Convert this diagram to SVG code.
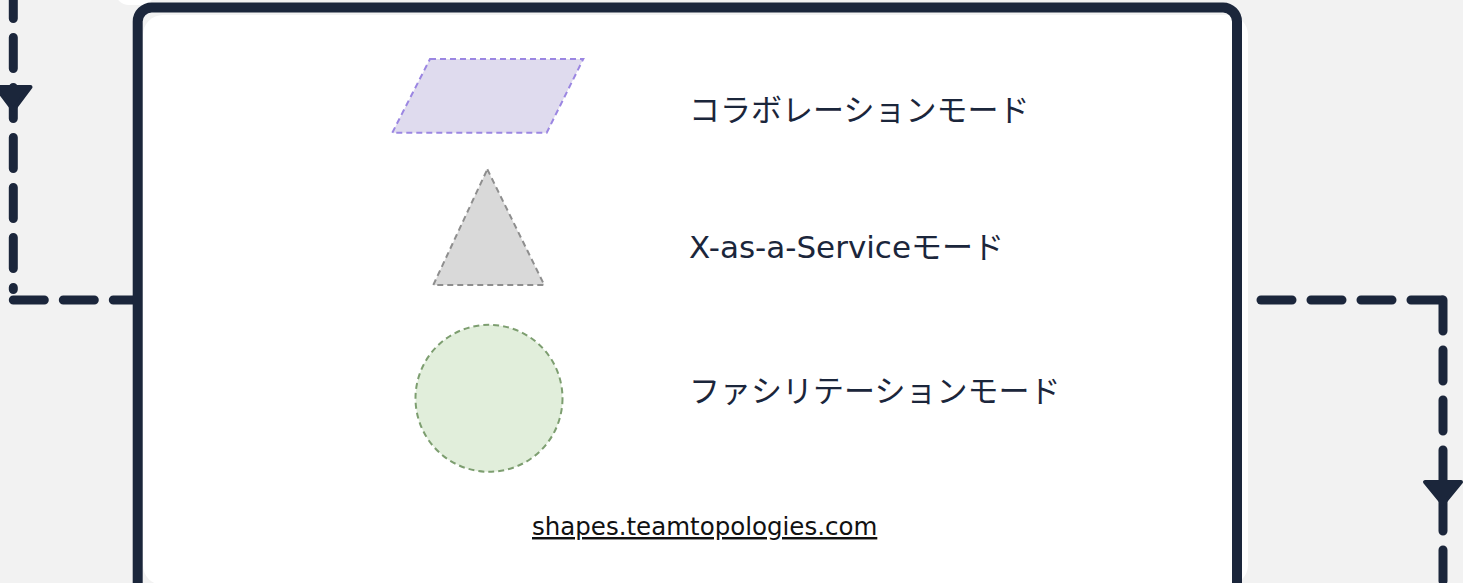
<svg xmlns="http://www.w3.org/2000/svg" width="1463" height="583" viewBox="0 0 1463 583">
<style>
.conn{fill:none;stroke:#1b263b;stroke-width:9;stroke-linecap:round;stroke-dasharray:31 19}
.arrow{fill:#1b263b;stroke:#1b263b;stroke-width:4;stroke-linejoin:round}
.lbl{font-family:"DejaVu Sans","Noto Sans CJK JP",sans-serif;font-size:31px;fill:#1b263b}
.link{font-family:"DejaVu Sans","Noto Sans CJK JP",sans-serif;font-size:24.5px;fill:#111;text-decoration:underline}
.dash{stroke-width:2;stroke-dasharray:6 4}
</style>
<rect width="1463" height="583" fill="#f2f2f2"/>
<g id="upper-node-fragment">
<rect x="115" y="-30" width="40" height="35" rx="14" fill="#fff"/>
</g>
<g id="connectors">
<path class="conn" d="M13.3,-12.5 V289.5"/>
<path class="conn" d="M13.3,300 H133"/>
<polygon class="arrow" points="-4,87 30.5,87 13.3,110"/>
<path class="conn" d="M1261,300 H1443"/>
<path class="conn" d="M1443,300 V600"/>
<polygon class="arrow" points="1425,482 1461,482 1443,504"/>
</g>
<g id="legend-box">
<rect x="143" y="15" width="1105" height="570" rx="20" fill="#fff"/>
<rect x="137.7" y="7.5" width="1099.3" height="620" rx="14" fill="none" stroke="#1b263b" stroke-width="10"/>
</g>
<g id="collaboration">
<polygon class="dash" points="430,59 583.3,59 546.7,132.7 392.3,132.7" fill="#dfdbee" stroke="#9b86e2"/>
<text class="lbl" x="689" y="121">コラボレーションモード</text>
</g>
<g id="xaas">
<polygon class="dash" points="487.3,169.3 544.3,285 433.3,285" fill="#d9d9d9" stroke="#8e8e8e"/>
<text class="lbl" x="689" y="258">X-as-a-Serviceモード</text>
</g>
<g id="facilitating">
<circle class="dash" cx="489" cy="398.3" r="73.5" fill="#e1eedb" stroke="#7d9e70"/>
<text class="lbl" x="689" y="402">ファシリテーションモード</text>
</g>
<g id="link">
<text class="link" x="532" y="535">shapes.teamtopologies.com</text>
</g>
</svg>
